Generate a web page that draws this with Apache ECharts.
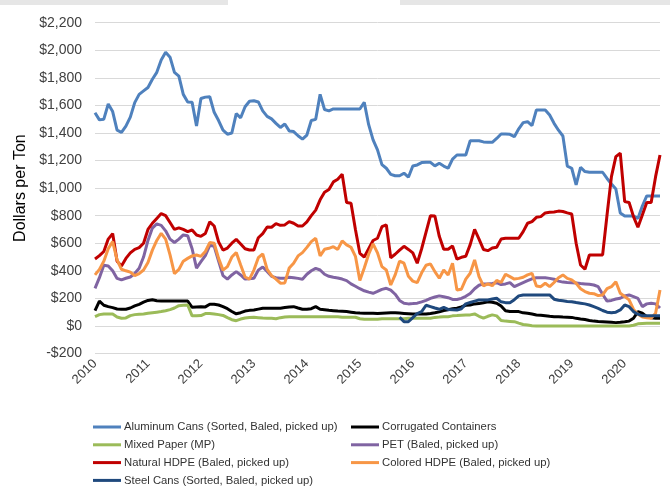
<!DOCTYPE html>
<html><head><meta charset="utf-8">
<script src="https://cdn.jsdelivr.net/npm/echarts@6/dist/echarts.min.js"></script>
<style>html,body{margin:0;padding:0;background:#fff}#c{width:670px;height:491px}</style>
</head><body><div id="c"></div>
<script>
const yearLabels = ['2010','2011','2012','2013','2014','2015','2016','2017','2018','2019','2020'];
const seriesNames = ['Aluminum Cans (Sorted, Baled, picked up)','Corrugated Containers','Mixed Paper (MP)','PET (Baled, picked up)','Natural HDPE (Baled, picked up)','Colored HDPE (Baled, picked up)','Steel Cans (Sorted, Baled, picked up)'];

const aluminum = [
1547,1495,1500,1610,1555,1420,1405,1450,1515,1620,
1680,1705,1730,1790,1840,1930,1985,1950,1840,1813,
1680,1625,1622,1450,1650,1660,1663,1550,1490,1420,
1391,1400,1540,1510,1590,1630,1634,1625,1560,1520,
1502,1470,1440,1465,1415,1410,1380,1355,1385,1490,
1499,1680,1570,1560,1574,1574,1574,1574,1574,1574,
1574,1622,1460,1350,1277,1170,1144,1100,1090,1090,
1108,1079,1160,1168,1185,1187,1187,1161,1180,1160,
1144,1210,1240,1240,1240,1344,1344,1344,1335,1332,
1332,1360,1393,1393,1390,1373,1430,1475,1482,1453,
1567,1567,1567,1530,1470,1420,1378,1160,1144,1023,
1151,1120,1115,1115,1115,1115,1070,1030,994,820,
798,798,798,780,870,943,943,943,943];

const corrugated = [
111,180,150,140,133,123,121,121,130,145,
157,172,185,190,183,181,181,181,181,181,
181,181,135,138,140,138,157,157,152,140,
125,105,88,96,108,113,116,122,128,128,
128,128,128,133,137,140,130,121,121,125,
140,121,118,114,111,108,106,104,100,96,
93,92,92,92,90,92,94,96,95,93,
91,89,87,87,87,87,90,95,102,112,
118,124,128,138,150,152,160,162,168,176,
172,165,145,110,104,104,104,95,92,86,
80,77,74,70,67,66,64,63,62,55,
50,46,40,35,32,30,28,26,24,26,
30,35,56,104,92,67,60,56,56];

const mixedPaper = [
67,82,87,87,87,65,56,58,75,82,
85,87,92,96,100,104,110,118,130,147,
150,152,73,73,75,90,90,87,82,76,
60,45,38,50,58,62,63,60,57,56,
55,52,60,65,67,67,67,67,67,67,
67,67,67,67,67,67,63,63,63,63,
52,48,48,48,48,52,52,52,52,52,
52,56,56,56,56,56,56,62,64,67,
67,73,75,78,80,80,87,70,56,70,
80,73,40,35,33,31,20,10,7,2,
0,0,0,0,0,0,0,0,0,0,
0,0,0,0,0,0,0,0,0,0,
0,0,5,15,18,20,20,20,20];

const pet = [
273,350,440,435,400,345,334,346,355,380,
418,500,620,710,740,730,690,630,605,630,
660,655,560,420,466,510,585,578,470,365,
340,370,394,370,340,343,346,405,428,395,
360,350,346,346,353,350,345,339,375,400,
418,406,375,360,353,348,340,329,305,288,
270,255,245,237,250,265,273,260,230,185,
165,160,162,165,175,186,200,210,218,212,
205,192,192,200,215,235,270,295,305,305,
308,314,300,305,314,285,300,314,328,342,
350,350,350,345,339,325,318,315,314,312,
308,305,302,297,285,230,180,185,195,201,
218,225,213,200,140,160,165,160,130];

const naturalHDPE = [
486,510,540,630,670,470,435,490,530,556,
568,600,700,745,780,815,800,750,700,712,
700,684,696,660,650,670,755,725,610,550,
565,600,628,595,560,551,551,640,670,718,
716,742,730,733,757,745,725,725,755,800,
840,915,970,990,1045,1064,1100,895,890,700,
527,500,560,620,636,720,733,495,520,550,
578,555,530,455,560,680,800,798,650,556,
556,580,484,498,505,590,700,630,555,546,
565,571,630,636,636,636,636,684,745,757,
788,793,820,824,827,833,830,820,812,600,
442,411,515,515,515,515,805,1083,1228,1253,
902,895,793,716,805,895,895,1083,1240];

const coloredHDPE = [
370,410,470,560,612,480,411,400,390,365,
380,406,460,550,620,672,630,515,380,410,
470,490,508,515,505,540,605,600,490,405,
430,500,532,442,355,340,405,495,522,410,
365,340,310,312,420,455,508,532,570,612,
636,508,556,563,575,555,617,588,571,505,
330,420,520,595,530,430,406,297,370,470,
455,360,325,314,385,440,450,394,346,406,
370,455,261,266,340,382,479,358,290,305,
292,330,315,375,358,340,345,353,370,382,
290,285,310,285,315,350,370,345,334,310,
270,249,237,234,220,225,270,285,321,237,
213,189,120,85,65,60,56,92,261];

const steelCans = [
null,null,null,null,null,null,null,null,null,null,
null,null,null,null,null,null,null,null,null,null,
null,null,null,null,null,null,null,null,null,null,
null,null,null,null,null,null,null,null,null,null,
null,null,null,null,null,null,null,null,null,null,
null,null,null,null,null,null,null,null,null,null,
null,null,null,null,null,null,null,null,null,63,
31,31,60,90,104,150,140,130,121,135,
120,118,116,125,160,170,180,189,189,189,
195,201,175,169,169,190,218,225,225,225,
225,225,225,225,194,186,182,178,176,170,
165,160,152,140,128,112,100,96,100,116,
152,140,104,85,73,73,73,73,73];

const months = [];
yearLabels.forEach(y => { for (let m = 1; m <= 12; m++) months.push(y + '-' + (m < 10 ? '0' + m : m)); });
const categories = months.slice(0, aluminum.length);

const colors = ['#4F81BD','#000000','#9BBB59','#8064A2','#C00000','#F79646','#1F497D'];
const allData = [aluminum, corrugated, mixedPaper, pet, naturalHDPE, coloredHDPE, steelCans];

const chart = echarts.init(document.getElementById('c'), null, {renderer: 'canvas'});
const legendText = {fontFamily: 'Liberation Sans, Arial, sans-serif', fontSize: 11.3, color: '#333333', lineHeight: 14, padding: [0, 0, 0, -2]};
chart.setOption({
  animation: false,
  color: colors,
  graphic: [
    {type: 'rect', shape: {x: 0, y: 0, width: 670, height: 5}, style: {fill: '#e6e6e6'}},
    {type: 'rect', shape: {x: 228, y: 0, width: 172, height: 5}, style: {fill: '#ffffff'}}
  ],
  grid: {left: 95, right: 10, top: 22.7, bottom: 137.5},
  legend: [
    {data: [seriesNames[0], seriesNames[2], seriesNames[4], seriesNames[6]], orient: 'vertical', left: 93, top: 420,
     icon: 'rect', itemWidth: 28, itemHeight: 3, itemGap: 3.8, textStyle: legendText, padding: 0},
    {data: [seriesNames[1], seriesNames[3], seriesNames[5]], orient: 'vertical', left: 351, top: 420,
     icon: 'rect', itemWidth: 28, itemHeight: 3, itemGap: 3.8, textStyle: legendText, padding: 0}
  ],
  xAxis: {
    type: 'category', data: categories, boundaryGap: false,
    axisLine: {show: false}, axisTick: {show: false},
    axisLabel: {
      interval: (idx, val) => val.endsWith('-01'),
      formatter: (val) => val.slice(0, 4),
      rotate: 45, margin: 8, fontSize: 13, color: '#404040',
      fontFamily: 'Liberation Sans, Arial, sans-serif'
    },
    splitLine: {show: false}
  },
  yAxis: {
    type: 'value', min: -200, max: 2200, interval: 200,
    name: 'Dollars per Ton', nameLocation: 'middle', nameGap: 64, nameRotate: 90,
    nameTextStyle: {fontSize: 16, color: '#000', fontFamily: 'Liberation Sans, Arial, sans-serif'},
    axisLine: {show: false}, axisTick: {show: false},
    axisLabel: {
      margin: 13, fontSize: 14, color: '#404040', fontFamily: 'Liberation Sans, Arial, sans-serif',
      formatter: v => (v < 0 ? '-$' : '$') + Math.abs(v).toLocaleString('en-US')
    },
    splitLine: {lineStyle: {color: '#d9d9d9', width: 1}}
  },
  series: seriesNames.map((n, i) => ({
    name: n, type: 'line', data: allData[i], showSymbol: false, symbol: 'none',
    lineStyle: {width: 3, color: colors[i]}, itemStyle: {color: colors[i]}
  }))
});
</script></body></html>
